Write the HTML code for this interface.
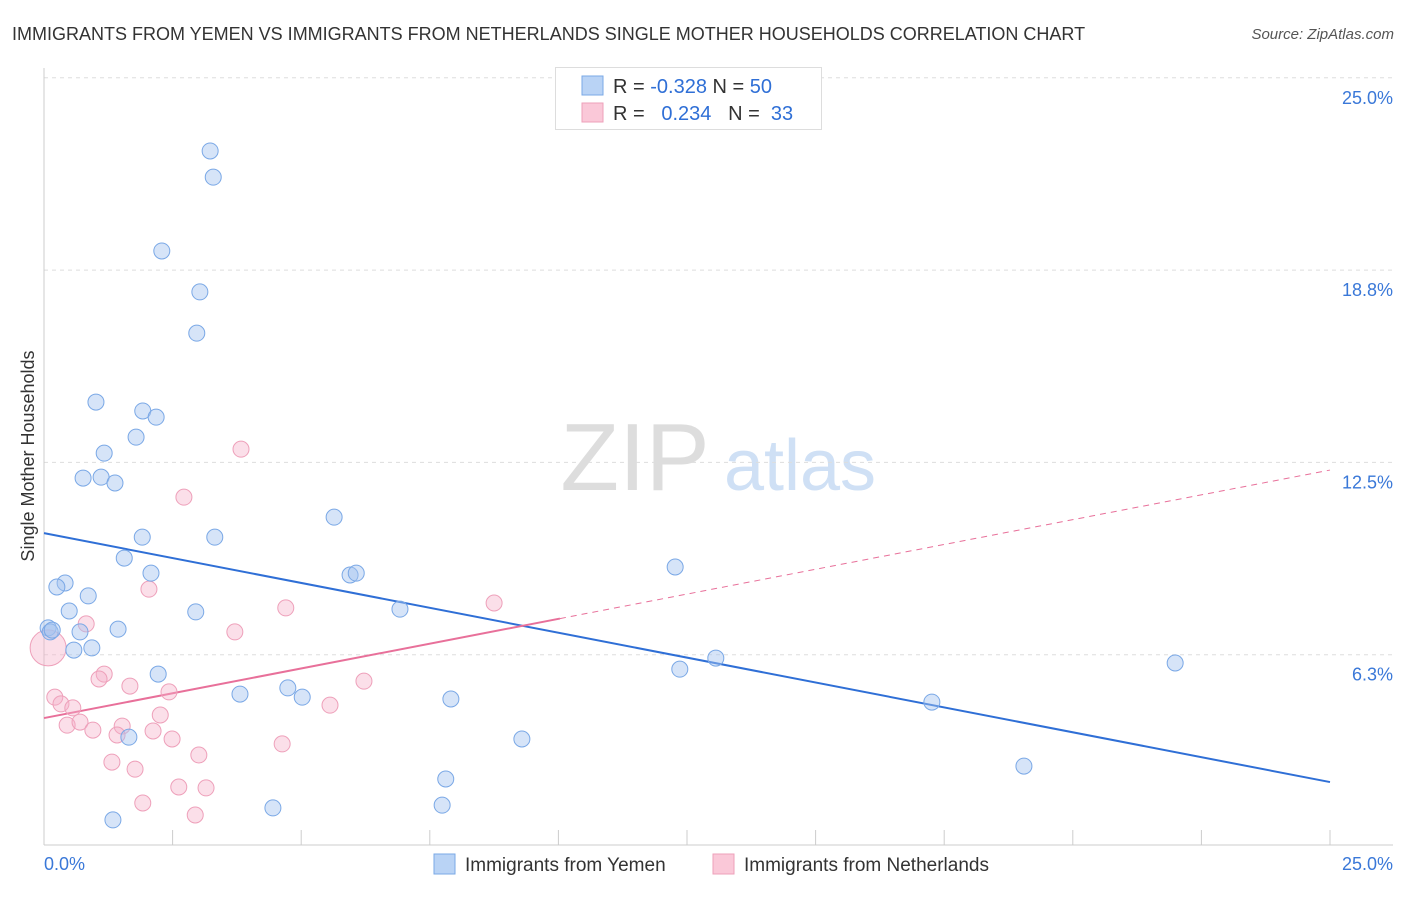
<!DOCTYPE html>
<html><head><meta charset="utf-8"><style>
body{margin:0;background:#fff;font-family:"Liberation Sans",sans-serif;}
svg text{font-family:"Liberation Sans",sans-serif;}
</style></head><body>
<svg id="chart" width="1406" height="892" xmlns="http://www.w3.org/2000/svg">
<text x="12" y="40" font-size="18" fill="#333">IMMIGRANTS FROM YEMEN VS IMMIGRANTS FROM NETHERLANDS SINGLE MOTHER HOUSEHOLDS CORRELATION CHART</text>
<text x="1394" y="39" font-size="15" fill="#555" font-style="italic" text-anchor="end">Source: ZipAtlas.com</text>
<text x="0" y="0" font-size="18" fill="#333" transform="translate(34,456) rotate(-90)" text-anchor="middle">Single Mother Households</text>
<g><text x="635" y="490" font-size="96" fill="#ddd" font-family="Liberation Serif" text-anchor="middle">ZIP</text><text x="800" y="490" font-size="72" fill="#cfe0f5" text-anchor="middle">atlas</text></g>
<g id="grid"></g><g id="trend"></g><g id="pts"></g>
<g>
<rect x="555.5" y="67.5" width="266" height="62" fill="#fff" stroke="#ddd"/>
<rect x="582" y="76" width="21" height="19" fill="#b9d3f5" stroke="#7aa8e6"/>
<rect x="582" y="103" width="21" height="19" fill="#fac8d8" stroke="#eea0ba"/>
<text x="613" y="93" font-size="20" fill="#333">R = <tspan fill="#2f6fd6">-0.328</tspan>   N = <tspan fill="#2f6fd6">50</tspan></text>
<text x="613" y="120" font-size="20" fill="#333" xml:space="preserve">R =   <tspan fill="#2f6fd6">0.234</tspan>   N =  <tspan fill="#2f6fd6">33</tspan></text>
</g>
<g>
<rect x="434" y="854" width="21" height="20" fill="#b9d3f5" stroke="#7aa8e6"/>
<text x="465" y="871" font-size="19" fill="#333">Immigrants from Yemen</text>
<rect x="713" y="854" width="21" height="20" fill="#fac8d8" stroke="#eea0ba"/>
<text x="744" y="871" font-size="19" fill="#333">Immigrants from Netherlands</text>
</g>
</svg>
<script>
const yemenX=[3.23,3.29,2.29,3.03,2.97,1.01,1.92,2.18,1.79,1.17,0.76,1.11,1.38,5.64,1.91,3.32,1.56,2.08,5.95,6.07,12.27,0.41,0.25,0.86,0.49,2.95,6.92,0.08,0.12,0.70,1.44,0.93,0.58,2.22,12.36,13.06,21.99,3.81,4.74,5.02,7.91,17.26,1.65,9.29,19.05,7.81,7.74,4.45,1.34,0.16];
const yemenY=[22.62,21.77,19.37,18.04,16.70,14.46,14.17,13.97,13.32,12.80,11.99,12.02,11.83,10.72,10.07,10.07,9.39,8.90,8.84,8.90,9.10,8.58,8.45,8.16,7.67,7.64,7.73,7.12,6.99,6.99,7.08,6.47,6.40,5.62,5.78,6.14,5.98,4.97,5.17,4.87,4.81,4.71,3.57,3.51,2.63,2.21,1.36,1.27,0.88,7.05];
const nethX=[0.08,0.21,0.33,0.56,0.45,0.70,0.95,0.82,1.17,1.07,1.67,2.43,1.52,1.42,2.12,2.26,2.49,1.32,1.77,3.01,1.92,2.62,3.15,2.94,2.72,3.83,2.04,3.71,4.70,5.56,4.63,6.22,8.75];
const nethY=[6.47,4.87,4.65,4.52,3.96,4.06,3.80,7.25,5.62,5.46,5.23,5.04,3.93,3.64,3.77,4.29,3.51,2.76,2.53,2.99,1.43,1.95,1.92,1.04,11.37,12.93,8.38,6.99,7.77,4.61,3.35,5.39,7.93];
const yTicks=[6.25,12.5,18.75,25];
const yTickLabels=["6.3%","12.5%","18.8%","25.0%"];
const xTickLabels=["0.0%","25.0%"];
const yemenTrend=[10.20,2.11];
const nethTrend=[4.19,12.25];
const nethSolidEnd=10.03;
const NS="http://www.w3.org/2000/svg";
const X=v=>44+v*51.44, Y=v=>847-v*30.77;
function mk(tag,attrs,parent){const e=document.createElementNS(NS,tag);for(const k in attrs)e.setAttribute(k,attrs[k]);document.getElementById(parent)?document.getElementById(parent).appendChild(e):parent.appendChild(e);return e;}
const grid=document.getElementById('grid');
yTicks.forEach((t,i)=>{
 const l=mk('line',{x1:44,x2:1393,y1:Y(t),y2:Y(t),stroke:'#ddd','stroke-dasharray':'4,4'},grid);
 
 
 const tx=mk('text',{x:1393,y:Y(t)+26,'font-size':18,fill:'#3a78d8','text-anchor':'end'},grid);
 tx.textContent=yTickLabels[i];
 
 
});
const ax=mk('line',{x1:44,x2:44,y1:68,y2:845,stroke:'#ccc'},grid);


const bx=mk('line',{x1:44,x2:1393,y1:845,y2:845,stroke:'#ccc'},grid);


for(let i=0;i<=10;i++){const tk=mk('line',{x1:X(i*2.5),x2:X(i*2.5),y1:830,y2:845,stroke:'#ccc'},grid);
 
 }
[0,25].forEach((v,i)=>{const t=mk('text',{x:i?1393:44,y:870,'font-size':18,fill:'#3a78d8','text-anchor':i?'end':'start'},grid);
 t.textContent=xTickLabels[i];
 
 });
const tr=document.getElementById('trend');
const bt=mk('line',{x1:X(0),y1:Y(yemenTrend[0]),x2:X(25),y2:Y(yemenTrend[1]),stroke:'#2f6fd6','stroke-width':2},tr);


const pf=v=>nethTrend[0]+(nethTrend[1]-nethTrend[0])*v/25;
const ps=mk('line',{x1:X(0),y1:Y(pf(0)),x2:X(nethSolidEnd),y2:Y(pf(nethSolidEnd)),stroke:'#e8709a','stroke-width':2},tr);


const pd=mk('line',{x1:X(nethSolidEnd),y1:Y(pf(nethSolidEnd)),x2:X(25),y2:Y(pf(25)),stroke:'#e8709a','stroke-width':1,'stroke-dasharray':'6,5'},tr);


const pts=document.getElementById('pts');
nethX.forEach((x,i)=>{const c=mk('circle',{cx:X(x),cy:Y(nethY[i]),r:i===0?18:8,fill:'rgba(246,176,200,0.4)',stroke:'#eea0ba','stroke-width':1},pts);
 
 });
yemenX.forEach((x,i)=>{const c=mk('circle',{cx:X(x),cy:Y(yemenY[i]),r:8,fill:'rgba(164,196,240,0.45)',stroke:'#7aa8e6','stroke-width':1},pts);
 
 });
</script>
</body></html>
